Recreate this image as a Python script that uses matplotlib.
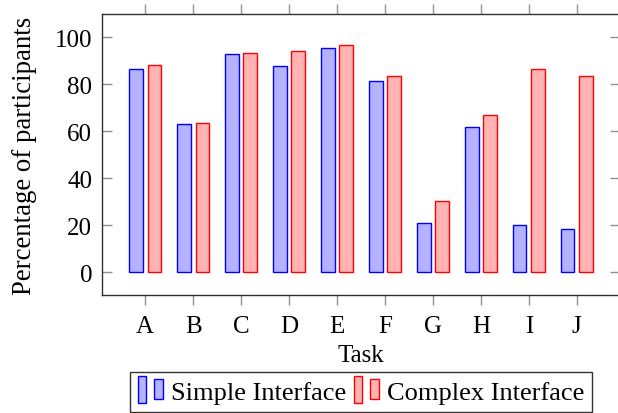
import matplotlib
matplotlib.use("Agg")
import matplotlib.pyplot as plt
import numpy as np
from matplotlib.patches import Rectangle
from matplotlib.legend_handler import HandlerBase

tasks = ["A", "B", "C", "D", "E", "F", "G", "H", "I", "J"]
simple = [86.5, 63.0, 93.1, 87.8, 95.4, 81.4, 21.0, 61.7, 20.0, 18.3]
complex_ = [88.5, 63.8, 93.6, 94.2, 96.7, 83.7, 30.5, 66.9, 86.4, 83.5]
yticks = [0, 20, 40, 60, 80, 100]

plt.rcParams['font.family'] = ['Liberation Serif', 'DejaVu Serif']
plt.rcParams['mathtext.fontset'] = 'stix'
FS = 18

fig = plt.figure(figsize=(6.18, 4.14), dpi=100)
ax = fig.add_axes([102/618, (414-296)/414, (620-102)/618, (296-15)/414])

x = np.arange(len(tasks))
w = 0.29
off = 0.195
b1 = ax.bar(x - off, simple, width=w, color='#b3b3ff', edgecolor='#0000ff', linewidth=1.0, label='Simple Interface')
b2 = ax.bar(x + off, complex_, width=w, color='#ffb3b3', edgecolor='#ff0000', linewidth=1.0, label='Complex Interface')

ax.set_xlim(-0.9, 9.9)
ax.set_ylim(-9.6, 110)
ax.set_xticks(x)
ax.set_xticklabels(tasks, fontsize=FS)
ax.set_yticks(yticks)
ax.set_yticklabels([str(v) for v in yticks], fontsize=FS)

for s in ax.spines.values():
    s.set_color('#303030')
    s.set_linewidth(1.0)

ax.tick_params(axis='x', which='both', bottom=True, top=True, direction='out',
               length=7.2, width=1.0, color='#909090', pad=7)
ax.tick_params(axis='y', which='both', left=True, right=True, direction='in',
               length=7.2, width=1.0, color='#909090', pad=7)

ax.set_xlabel('Task', fontsize=FS, labelpad=5)
ax.set_ylabel('Percentage of participants', fontsize=19.3, labelpad=13)


class TwoBarHandler(HandlerBase):
    def create_artists(self, legend, orig_handle, xdescent, ydescent, width, height, fontsize, trans):
        fc = orig_handle.get_facecolor()
        ec = orig_handle.get_edgecolor()
        bw = width * 0.32
        h = height * 1.5
        y0 = -ydescent - height * 0.25
        r1 = Rectangle((-xdescent + width * 0.0, y0), bw, h, facecolor=fc, edgecolor=ec, lw=1.0, transform=trans)
        r2 = Rectangle((-xdescent + width * 0.62, y0 + h * 0.14), bw, h * 0.72, facecolor=fc, edgecolor=ec, lw=1.0, transform=trans)
        return [r1, r2]


leg = ax.legend([b1.patches[0], b2.patches[0]], ['Simple Interface', 'Complex Interface'],
                handler_map={Rectangle: TwoBarHandler()},
                loc='upper center', bbox_to_anchor=(0.5, -0.275), ncol=2,
                fontsize=19, frameon=True, fancybox=False, edgecolor='black',
                handlelength=1.0, handletextpad=0.25, columnspacing=0.3,
                borderpad=0.3, borderaxespad=0.0)
leg.get_frame().set_linewidth(1.0)

fig.savefig('out.png', dpi=100)
